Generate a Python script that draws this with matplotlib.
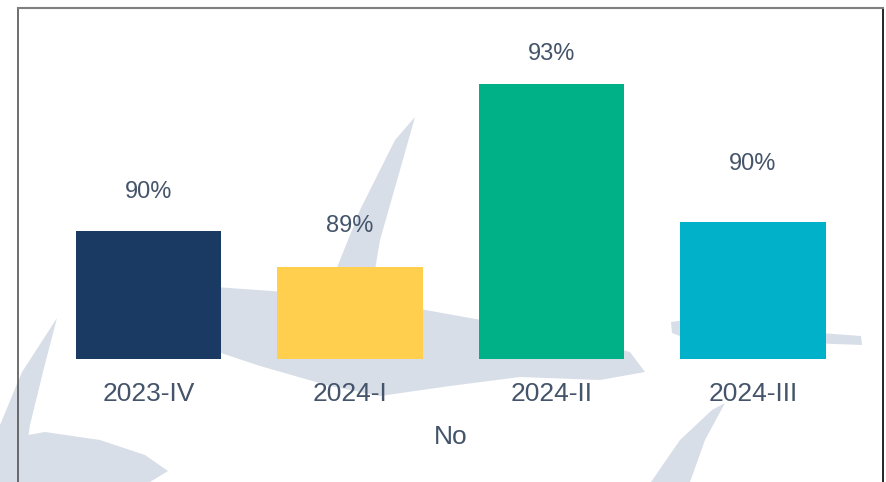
import matplotlib
matplotlib.use("Agg")
import matplotlib.pyplot as plt
from matplotlib.patches import Polygon

plt.rcParams['font.family'] = ['Liberation Sans Narrow', 'Liberation Sans', 'DejaVu Sans']

# data
quarters = ['2023-IV', '2024-I', '2024-II', '2024-III']
values = [89.8, 89.0, 93.0, 90.0]
value_labels = ['90%', '89%', '93%', '90%']
group_label = 'No'
base = 87.0

colors = ['#1B3A63', '#FFCF4D', '#00B086', '#00B1C9']
text_col = '#44546A'
mark_col = '#D8DEE8'
label_offsets = [39, 41, 30, 57]

W, H = 886, 482
fig = plt.figure(figsize=(W / 100, H / 100), dpi=100)

# watermark shapes behind the chart (pixel coords of the figure)
bg = fig.add_axes([0, 0, 1, 1], zorder=0)
bg.set_xlim(0, W)
bg.set_ylim(H, 0)
bg.axis('off')
shapes = [
    [(0, 482), (0, 425), (22, 372), (57, 318), (44, 368), (30, 425), (22, 482)],
    [(0, 440), (45, 432), (100, 440), (145, 455), (168, 471), (150, 482), (0, 482)],
    [(150, 300), (215, 287), (300, 293), (330, 285), (360, 210), (395, 140), (415, 117),
     (400, 170), (380, 240), (370, 300), (470, 318), (560, 333), (630, 352),
     (645, 372), (600, 380), (520, 377), (450, 386), (380, 396), (330, 386),
     (260, 366), (200, 346), (160, 322)],
    [(671, 322), (700, 318), (780, 330), (861, 336), (862, 345), (780, 342), (690, 340), (672, 333)],
    [(651, 482), (680, 440), (712, 410), (725, 403), (705, 440), (690, 482)],
]
for s in shapes:
    bg.add_patch(Polygon(s, closed=True, color=mark_col, lw=0))

# main chart axes, framed on top/left/right
left, right, top = 18, 883, 8
ax = fig.add_axes([left / W, 0, (right - left) / W, (H - top) / H], zorder=1)
ax.patch.set_alpha(0)
px_per_unit = (359 - 84) / (values[2] - base)
ymin = base - (H - 359) / px_per_unit
ymax = base + (359 - top) / px_per_unit
ax.set_ylim(ymin, ymax)
step = 201.5
ax.set_xlim((left - 148.5) / step, (right - 148.5) / step)

x = list(range(len(quarters)))
heights = [v - base for v in values]
ax.bar(x, heights, bottom=base, width=0.72, color=colors, zorder=3)

for i, v in enumerate(values):
    ax.annotate(value_labels[i], (i, v), xytext=(0, label_offsets[i]),
                textcoords='offset pixels', ha='center', va='center',
                fontsize=17, color=text_col)
    ax.annotate(quarters[i], (i, base), xytext=(0, -35),
                textcoords='offset pixels', ha='center', va='center',
                fontsize=19, color=text_col)

ax.annotate(group_label, (0.5, base - 78 / px_per_unit),
            xycoords=('axes fraction', 'data'), ha='center', va='center',
            fontsize=19, color=text_col)

ax.set_xticks([])
ax.set_yticks([])
ax.spines['bottom'].set_visible(False)
ax.spines['top'].set_color('#7F7F7F')
ax.spines['top'].set_linewidth(1.5)
ax.spines['left'].set_color('#555555')
ax.spines['left'].set_linewidth(1.2)
ax.spines['right'].set_color('#000000')
ax.spines['right'].set_linewidth(1.2)

fig.savefig('out.png', dpi=100, facecolor='white')
